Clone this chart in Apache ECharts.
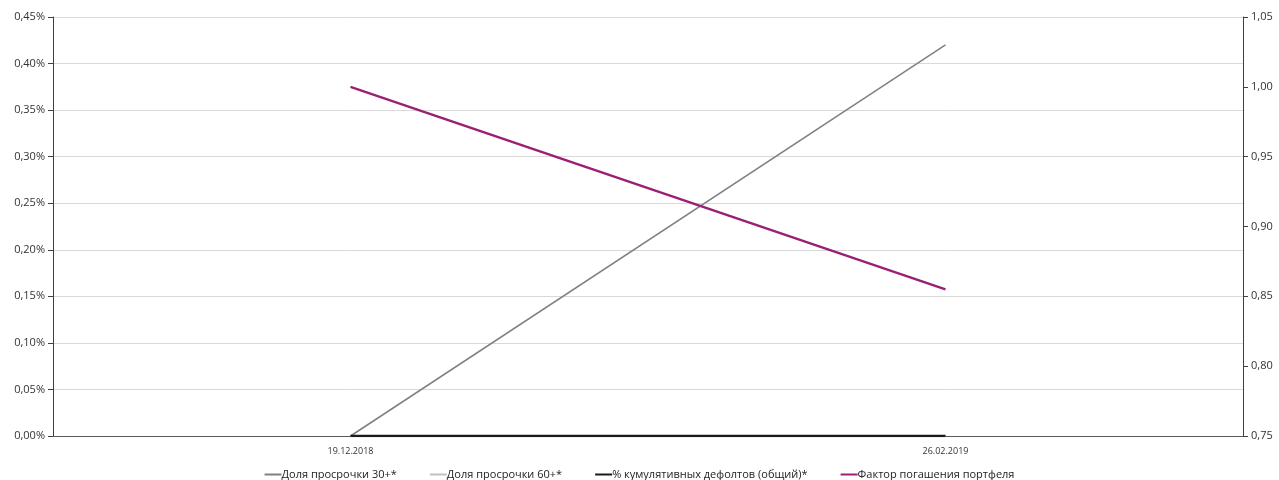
<!DOCTYPE html>
<html>
<head>
<meta charset="utf-8">
<script src="https://cdn.jsdelivr.net/npm/echarts@6/dist/echarts.min.js"></script>
<style>
  html, body { margin: 0; padding: 0; background: #fff; }
  #chart { width: 1279px; height: 480px; }
</style>
</head>
<body>
<div id="chart"></div>
<script>
// Report dates
const dates = ['19.12.2018', '26.02.2019'];

// Left axis series (percent)
const overdue30 = [0.0, 0.42];
const overdue60 = [0.0, 0.0];
const cumDefaults = [0.0, 0.0];

// Right axis series (factor)
const poolFactor = [1.0, 0.855];

const seriesNames = [
  'Доля просрочки 30+*',
  'Доля просрочки 60+*',
  '% кумулятивных дефолтов (общий)*',
  'Фактор погашения портфеля'
];

const fmt = (v, d) => v.toFixed(d).replace('.', ',');
const font = '"Open Sans", "Noto Sans", sans-serif';

const chart = echarts.init(document.getElementById('chart'), null, { renderer: 'canvas' });

chart.setOption({
  animation: false,
  backgroundColor: '#ffffff',
  textStyle: { fontFamily: font },
  grid: { left: 53, right: 36, top: 17, bottom: 44, containLabel: false },
  legend: {
    top: 464,
    left: 'center',
    icon: 'rect',
    itemWidth: 17,
    itemHeight: 2,
    itemGap: 33,
    textStyle: { fontFamily: font, fontSize: 11, color: '#222', padding: [0, 0, 0, -5] },
    data: seriesNames
  },
  xAxis: {
    type: 'category',
    data: dates,
    boundaryGap: true,
    axisLine: { show: true, onZero: false, lineStyle: { color: '#595959', width: 1 } },
    axisTick: { show: false },
    axisLabel: { fontFamily: font, fontSize: 9, color: '#333', margin: 11 }
  },
  yAxis: [
    {
      type: 'value',
      min: 0, max: 0.45, interval: 0.05,
      axisLine: { show: true, lineStyle: { color: '#404040', width: 1 } },
      axisTick: { show: true, length: 5, lineStyle: { color: '#404040' } },
      axisLabel: { fontFamily: font, fontSize: 11, color: '#333', margin: 8,
        formatter: v => fmt(v, 2) + '%' },
      splitLine: { show: true, lineStyle: { color: '#d9d9d9', width: 1 } }
    },
    {
      type: 'value',
      min: 0.75, max: 1.05, interval: 0.05,
      position: 'right',
      axisLine: { show: true, lineStyle: { color: '#404040', width: 1 } },
      axisTick: { show: true, length: 5, lineStyle: { color: '#404040' } },
      axisLabel: { fontFamily: font, fontSize: 11, color: '#333', margin: 8,
        formatter: v => fmt(v, 2) },
      splitLine: { show: false }
    }
  ],
  series: [
    {
      name: seriesNames[0], type: 'line', yAxisIndex: 0, data: overdue30,
      symbol: 'none', lineStyle: { color: '#808080', width: 1.5 }, itemStyle: { color: '#808080' }, z: 3
    },
    {
      name: seriesNames[1], type: 'line', yAxisIndex: 0, data: overdue60,
      symbol: 'none', lineStyle: { color: '#c0c0c0', width: 2 }, itemStyle: { color: '#c0c0c0' }, z: 2
    },
    {
      name: seriesNames[2], type: 'line', yAxisIndex: 0, data: cumDefaults,
      symbol: 'none', lineStyle: { color: '#1a1a1a', width: 2.5 }, itemStyle: { color: '#1a1a1a' }, z: 4
    },
    {
      name: seriesNames[3], type: 'line', yAxisIndex: 1, data: poolFactor,
      symbol: 'none', lineStyle: { color: '#9a2076', width: 2.5 }, itemStyle: { color: '#9a2076' }, z: 5
    }
  ]
});
</script>
</body>
</html>
